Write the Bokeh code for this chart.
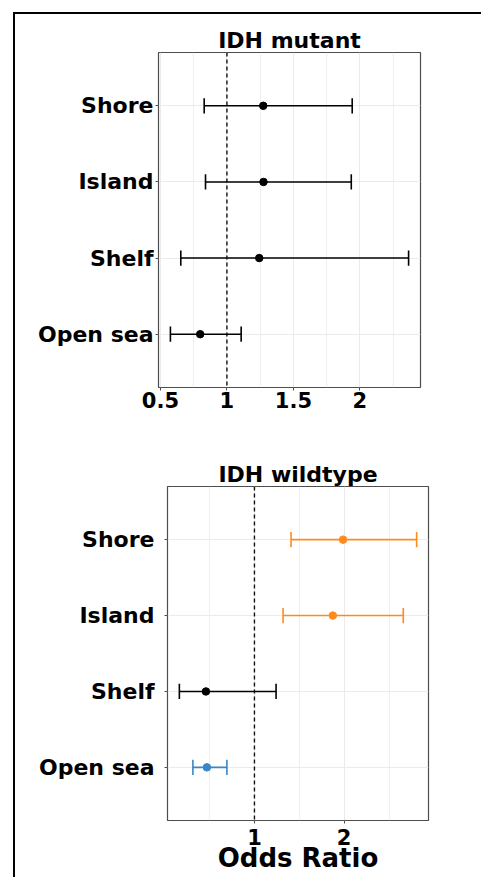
from bokeh.plotting import figure
from bokeh.models import (ColumnDataSource, FactorRange, FixedTicker,
                          NumeralTickFormatter, Span)
from bokeh.transform import dodge
from bokeh.layouts import column, row
from bokeh.embed import file_html
from bokeh.resources import INLINE

# ---------------- data ----------------
regions = ["Shore", "Island", "Shelf", "Open sea"]

mut_or = [1.273, 1.275, 1.243, 0.799]
mut_lo = [0.829, 0.839, 0.653, 0.575]
mut_hi = [1.942, 1.935, 2.366, 1.107]
mut_col = ["#000000", "#000000", "#000000", "#000000"]

wt_or = [1.988, 1.874, 0.459, 0.470]
wt_lo = [1.408, 1.319, 0.163, 0.314]
wt_hi = [2.808, 2.659, 1.241, 0.693]
wt_col = ["#ff8b1f", "#ff8b1f", "#000000", "#3a86c6"]

mut_ticks = [0.5, 1, 1.5, 2]
mut_minor = [0.75, 1.25, 1.75, 2.25]
wt_ticks = [1, 2]
wt_minor = [0.5, 1.5, 2.5]

FONT = "DejaVu Sans"


def panel(title, orv, lo, hi, cols, ticks, minor, fw, fh,
          bl, br, bt, bb, ystand, xstand, xlabel=None):
    yr = FactorRange(factors=list(reversed(regions)), range_padding=0.2,
                     range_padding_units="absolute")
    p = figure(frame_width=fw, frame_height=fh, y_range=yr,
               output_backend="svg", toolbar_location=None,
               min_border_left=bl, min_border_right=br,
               min_border_top=bt, min_border_bottom=bb)
    p.x_range.range_padding = 0.1
    src = ColumnDataSource(dict(cat=regions, orv=orv, lo=lo, hi=hi, color=cols))

    p.segment(x0="lo", y0="cat", x1="hi", y1="cat", line_color="color",
              line_width=1.6, source=src)
    for c in ("lo", "hi"):
        p.segment(x0=c, y0=dodge("cat", -0.1, range=yr), x1=c,
                  y1=dodge("cat", 0.1, range=yr), line_color="color",
                  line_width=1.6, source=src)
    p.scatter(x="orv", y="cat", size=7.5, color="color", source=src)

    p.add_layout(Span(location=1, dimension="height", line_color="#111111",
                      line_width=1.4, line_dash="4 3"))

    p.title.text = title
    p.title.text_font = FONT
    p.title.text_font_size = "22px"
    p.title.text_font_style = "bold"
    p.title.text_color = "black"
    p.title.align = "center"
    p.title.standoff = 0

    p.outline_line_color = "#4d4d4d"
    p.outline_line_width = 1.2

    p.xaxis.ticker = FixedTicker(ticks=ticks, minor_ticks=minor)
    p.xaxis.formatter = NumeralTickFormatter(format="0.[0]")
    for ax in (p.xaxis[0], p.yaxis[0]):
        ax.axis_line_color = None
        ax.major_tick_line_color = "#4d4d4d"
        ax.major_tick_out = 3
        ax.major_tick_in = 0
        ax.minor_tick_line_color = None
        ax.major_label_text_font = FONT
        ax.major_label_text_font_style = "bold"
        ax.major_label_text_color = "black"
    p.yaxis.major_label_text_font_size = "22px"
    p.yaxis.major_label_standoff = ystand
    p.xaxis.major_label_text_font_size = "21px"
    p.xaxis.major_label_standoff = xstand
    if xlabel:
        p.xaxis.axis_label = xlabel
        p.xaxis.axis_label_text_font = FONT
        p.xaxis.axis_label_text_font_size = "26px"
        p.xaxis.axis_label_text_font_style = "bold"
        p.xaxis.axis_label_text_color = "black"
        p.xaxis.axis_label_standoff = -5

    p.xgrid.grid_line_color = "#ebebeb"
    p.xgrid.minor_grid_line_color = "#ebebeb"
    p.xgrid.minor_grid_line_width = 0.8
    p.ygrid.grid_line_color = "#ebebeb"
    return p


p1 = panel("IDH mutant", mut_or, mut_lo, mut_hi, mut_col, mut_ticks,
           mut_minor, 262, 335, 143, 61, 38, 53, 2, 0)
p2 = panel("IDH wildtype", wt_or, wt_lo, wt_hi, wt_col, wt_ticks,
           wt_minor, 261, 334, 152, 53, 46, 57, 10, 4, xlabel="Odds Ratio")

layout = column(row(p1), row(p2), margin=(12, 0, 0, 13),
                styles={"border-left": "2px solid black",
                        "border-top": "2px solid black",
                        "box-sizing": "border-box",
                        "width": "468px",
                        "min-width": "468px"})

open("out.html", "w").write(file_html(layout, INLINE))
